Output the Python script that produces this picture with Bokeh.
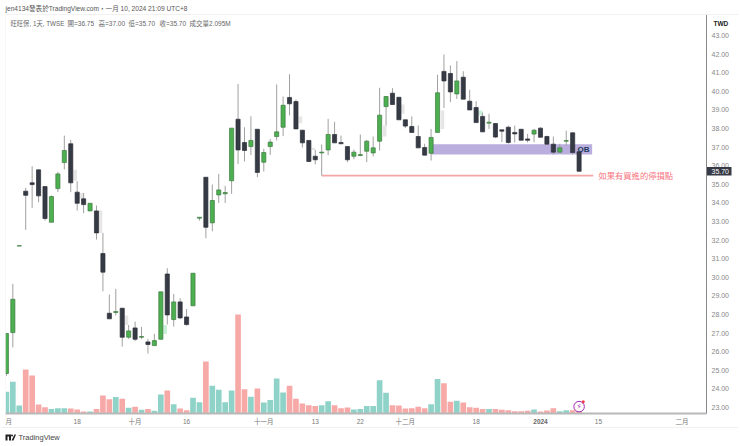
from bokeh.core.properties import value
from bokeh.embed import file_html
from bokeh.models import (ColumnDataSource, FixedTicker, Label,
                          NumeralTickFormatter, Range1d, Span)
from bokeh.plotting import figure
from bokeh.resources import INLINE

# daily candles, index 0 = first bar on the left
opens = [24.83, 27.03, 31.68, 34.63, 35.08, 35.78, 34.88, 32.96, 34.77, 36.17,
         37.18, 34.58, 34.22, 33.57, 33.57, 31.28, 28.07, 28.11, 28.34, 26.78,
         27.28, 26.78, 26.53, 26.33, 26.67, 30.18, 27.73, 28.68, 27.87, 28.47,
         33.18, 35.38, 32.93, 34.43, 34.49, 35.19, 38.50, 37.25, 37.03, 37.96,
         36.19, 37.03, 37.57, 38.07, 39.67, 39.45, 37.91, 37.36, 36.51, 36.69,
         36.85, 37.68, 37.25, 37.03, 36.51, 36.55, 36.78, 36.69, 37.32, 39.18,
         39.90, 39.68, 38.47, 38.11, 37.57, 36.98, 36.67, 37.79, 41.07, 40.96,
         39.86, 40.76, 39.47, 39.13, 38.65, 38.29, 38.27, 37.93, 38.07, 37.79,
         37.96, 37.44, 37.70, 38.02, 37.57, 37.16, 36.73, 37.32, 37.77, 36.75]
highs = [26.98, 29.65, 31.70, 34.81, 35.97, 35.78, 34.88, 34.40, 35.67, 37.62,
         37.39, 35.17, 34.54, 33.98, 33.86, 32.39, 29.07, 29.38, 28.34, 27.44,
         27.62, 27.34, 26.69, 26.96, 29.22, 30.49, 29.11, 28.88, 28.30, 30.22,
         33.23, 35.38, 34.99, 35.56, 34.92, 38.02, 40.40, 38.07, 38.66, 37.96,
         36.91, 37.43, 40.37, 39.72, 40.92, 39.56, 37.91, 37.36, 36.85, 37.14,
         38.52, 38.36, 37.62, 37.03, 36.87, 37.68, 37.39, 37.57, 40.19, 39.72,
         40.17, 39.68, 38.47, 38.65, 38.16, 37.18, 37.98, 40.89, 41.98, 41.39,
         41.62, 41.08, 40.08, 39.47, 38.86, 38.79, 38.27, 37.93, 38.16, 38.16,
         37.96, 37.71, 37.98, 38.07, 37.62, 37.57, 37.18, 37.89, 37.77, 37.00]
lows = [24.70, 26.24, 31.68, 32.55, 33.73, 34.04, 33.05, 32.96, 34.58, 35.80,
        34.58, 33.59, 33.45, 33.57, 32.03, 29.25, 27.77, 27.95, 26.28, 26.69,
        26.57, 26.69, 25.90, 26.33, 26.67, 27.46, 27.35, 27.75, 27.41, 28.47,
        33.05, 32.10, 32.48, 34.00, 34.00, 34.49, 36.10, 36.23, 36.58, 35.38,
        35.69, 36.58, 37.36, 37.59, 38.70, 37.98, 36.98, 36.23, 36.07, 35.47,
        36.57, 37.23, 37.18, 36.19, 36.35, 36.51, 36.19, 36.50, 36.82, 38.16,
        39.29, 38.47, 38.02, 37.79, 36.96, 36.57, 36.28, 37.79, 39.11, 39.42,
        39.59, 39.58, 39.00, 38.32, 37.82, 37.98, 37.50, 37.27, 37.18, 37.25,
        37.37, 37.25, 37.27, 37.53, 37.16, 36.60, 36.73, 37.09, 36.60, 35.70]
closes = [26.98, 28.82, 31.70, 34.41, 34.99, 34.38, 33.16, 34.34, 35.56, 36.82,
          35.08, 33.98, 33.91, 33.98, 32.39, 30.28, 27.77, 28.16, 26.78, 27.12,
          26.67, 26.82, 26.39, 26.60, 29.22, 27.98, 28.68, 27.82, 27.46, 30.22,
          33.23, 32.69, 34.13, 34.70, 34.56, 38.02, 36.85, 36.82, 37.36, 35.64,
          36.71, 37.27, 37.82, 39.25, 39.33, 37.98, 37.23, 36.23, 36.32, 36.73,
          37.68, 37.23, 37.18, 36.32, 36.73, 36.60, 37.32, 36.96, 38.72, 39.72,
          39.29, 38.47, 38.13, 37.79, 36.96, 36.57, 37.52, 39.92, 40.56, 39.97,
          40.56, 39.58, 39.00, 38.32, 37.82, 38.34, 37.54, 37.86, 37.25, 37.71,
          37.37, 37.37, 37.91, 37.53, 37.16, 36.73, 36.96, 37.35, 36.71, 35.70]
# volume in millions
volumes = [12.3, 18.0, 4.5, 24.9, 21.5, 5.1, 3.6, 2.6, 3.0, 3.0,
           2.8, 2.3, 1.1, 1.1, 2.6, 10.2, 8.1, 9.3, 8.3, 3.2,
           3.8, 2.1, 2.5, 1.5, 10.8, 13.0, 5.3, 2.8, 1.9, 8.9,
           6.4, 29.5, 15.7, 13.4, 6.4, 13.0, 56.1, 13.8, 9.5, 14.2,
           6.2, 7.7, 19.8, 11.9, 15.7, 8.3, 5.7, 4.7, 4.2, 4.7,
           7.0, 4.7, 3.0, 3.4, 2.3, 2.6, 4.3, 4.2, 18.9, 11.7,
           4.7, 4.5, 2.8, 3.0, 3.8, 3.0, 5.3, 19.5, 17.2, 6.6,
           7.2, 6.2, 3.6, 3.2, 2.6, 2.6, 2.6, 2.1, 1.9, 1.3,
           1.3, 1.5, 2.3, 1.1, 1.7, 3.0, 1.3, 1.9, 1.9, 2.095]

# faint leftover bars beside some candles
ghost_x = [10.69, 11.67, 14.62, 18.66, 45.7, 47.7, 58.8, 61.6, 67.77]
ghost_top = [35.78, 34.54, 33.59, 27.95, 38.65, 36.96, 38.16, 39.29, 38.97]
ghost_bot = [35.20, 34.22, 32.39, 27.44, 38.29, 36.85, 37.57, 38.79, 37.98]
ghost_green_x = [24.67, 73.7]
ghost_green_top = [27.44, 38.97]
ghost_green_bot = [26.96, 38.70]

tick_x = [0.35, 11, 20, 28, 40, 48, 55, 62, 73, 83, 92, 105]
tick_labels = ["月", "18", "十月", "16", "十一月", "13", "22", "十二月", "18", " ", "15", "二月"]
price_ticks = list(range(23, 44))

UP = "#4caf50"
DOWN = "#363a45"
FONT = "'Liberation Sans', 'Noto Sans CJK TC'"

idx = list(range(len(opens)))
up = [c >= o for o, c in zip(opens, closes)]
src = ColumnDataSource(dict(
    x=idx,
    high=highs,
    low=lows,
    top=[max(o, c) for o, c in zip(opens, closes)],
    bot=[min(o, c) for o, c in zip(opens, closes)],
    vol=volumes,
    body=[UP if u else DOWN for u in up],
    edge=["#3d7a41" if u else "#2b2e38" for u in up],
    volcol=["#8fd3c8" if u else "#f7a9a7" for u in up],
))

p = figure(width=740, height=446, output_backend="svg", toolbar_location=None,
           x_range=Range1d(-0.14, 108.8), y_range=Range1d(22.68, 44.13),
           y_axis_location="right", min_border_left=5, min_border_right=34,
           min_border_top=14, min_border_bottom=33, outline_line_color=None,
           styles={"position": "absolute", "left": "0", "top": "0"})
p.extra_y_ranges = {"vol": Range1d(0, 226)}
p.grid.grid_line_color = None

p.xaxis.ticker = FixedTicker(ticks=tick_x)
p.xaxis.major_label_overrides = {t: s for t, s in zip(tick_x, tick_labels)}
p.xaxis.major_tick_line_color = None
p.xaxis.major_tick_out = 0
p.xaxis.major_tick_in = 0
p.xaxis.minor_tick_line_color = None
p.xaxis.axis_line_color = "#b8b8b8"
p.xaxis.axis_line_width = 2
p.xaxis.major_label_text_font = FONT
p.xaxis.major_label_text_font_size = "6.5px"
p.xaxis.major_label_text_color = "#777777"
p.xaxis.major_label_standoff = 4

p.yaxis.ticker = FixedTicker(ticks=price_ticks)
p.yaxis.formatter = NumeralTickFormatter(format="0.00")
p.yaxis.major_tick_line_color = None
p.yaxis.major_tick_out = 0
p.yaxis.major_tick_in = 0
p.yaxis.minor_tick_line_color = None
p.yaxis.axis_line_color = "#888888"
p.yaxis.major_label_text_font = FONT
p.yaxis.major_label_text_font_size = "7px"
p.yaxis.major_label_text_color = "#888888"
p.yaxis.major_label_standoff = 5

# volume at the bottom
p.vbar(x="x", top="vol", bottom=0, width=0.88, source=src, fill_color="volcol",
       line_color=None, y_range_name="vol")

# order block and stop line
p.quad(left=[66], right=[91.03], top=[37.16], bottom=[36.60],
       fill_color="#b9aedd", line_color=None)
p.line([49, 91.2], [35.47, 35.47], line_color="#f5a5a5", line_width=1.6)

p.vbar(x=ghost_x, top=ghost_top, bottom=ghost_bot, width=0.55, fill_color="#e6e6e6", line_color=None)
p.vbar(x=ghost_green_x, top=ghost_green_top, bottom=ghost_green_bot, width=0.55,
       fill_color="#c8f0d8", line_color=None)

p.segment(x0="x", x1="x", y0="low", y1="high", source=src, line_color="#a0a0a0", line_width=1)
p.vbar(x="x", top="top", bottom="bot", width=0.64, source=src, fill_color="body",
       line_color="edge", line_width=0.7)

# purple marker on the last bar
p.scatter([89], [3.9], size=10.5, marker="circle", fill_color="white", line_color="#9c27b0",
          line_width=1, y_range_name="vol")
p.scatter([89.65], [6.6], size=3, marker="circle", fill_color="#f23645", line_color=None,
          y_range_name="vol")

p.add_layout(Label(x=92, y=35.47, text="如果有買進的停損點",
                   text_font=FONT, text_font_size="8.3px", text_color="#f7757f",
                   text_baseline="middle"))
p.add_layout(Label(x=89.7, y=36.88, text="OB", text_font=FONT, text_font_size="8px",
                   text_font_style="bold", text_color="#1f3a5f", text_align="center",
                   text_baseline="middle"))
p.add_layout(Label(x=89, y=3.9, y_range_name="vol", text="⚡", text_font="DejaVu Sans",
                   text_font_size="7.5px", text_color="#9c27b0", text_align="center",
                   text_baseline="middle"))
p.add_layout(Span(location=0, dimension="height", location_units="screen",
                  line_color="#f2f2f2", line_width=1))

# transparent sheet over the whole page for what sits outside the plot frame,
# its range is simply page pixels
q = figure(width=740, height=446, output_backend="svg", toolbar_location=None,
           x_range=Range1d(0, 740), y_range=Range1d(446, 0), min_border=0,
           outline_line_color=None, background_fill_color=None, border_fill_color=None,
           styles={"position": "absolute", "left": "0", "top": "0", "pointer-events": "none"})
q.axis.visible = False
q.grid.grid_line_color = None

q.segment(x0=[5, 0], x1=[738, 738], y0=[14, 427], y1=[14, 427], line_color="#f1f1f1", line_width=1)


def text(s, x, y, size, color, style="normal", align="left"):
    q.text([x], [y], text=[s], text_font=value(FONT), text_font_size=value(size), text_color=color,
           text_font_style=style, text_align=align, text_baseline="middle")


text("jen4134發表於TradingView.com・一月 10, 2024 21:09 UTC+8", 5, 8, "6.6px", "#555555")
text("旺旺保, 1天, TWSE", 10, 22.5, "6.3px", "#666666")
text("開=36.75", 67, 22.5, "6.5px", "#666666")
text("高=37.00", 98, 22.5, "6.5px", "#666666")
text("低=35.70", 128, 22.5, "6.5px", "#666666")
text("收=35.70", 159, 22.5, "6.5px", "#666666")
text("成交量2.095M", 189, 22.5, "6.5px", "#666666")
text("TWD", 713, 23, "6.5px", "#222222", style="bold")
text("TradingView", 18, 437, "7.5px", "#444444")
text("2024", 540, 420.5, "6.5px", "#666666", style="bold", align="center")

# last price tag on the axis, placed from the price scale of the main plot
tag_y = 35 + (43 - closes[-1]) * 18.6
q.quad(left=[706.5], right=[731], top=[tag_y - 4.3], bottom=[tag_y + 4.3], fill_color=DOWN, line_color=None)
text(f"{closes[-1]:.2f}", 711, tag_y + 0.2, "7px", "#ffffff")

# TradingView mark
q.patches(xs=[[5, 10.5, 10.5, 8.5, 8.5, 7, 7, 5], [14, 15.5, 13, 11, 12.5]],
          ys=[[434, 434, 440, 440, 436, 436, 440, 440], [434, 434, 440, 440, 437]],
          fill_color="#222222", line_color=None)
q.scatter([11.5], [435], size=2, marker="circle", fill_color="#222222", line_color=None)

open("out.html", "w").write(file_html([p, q], INLINE))
